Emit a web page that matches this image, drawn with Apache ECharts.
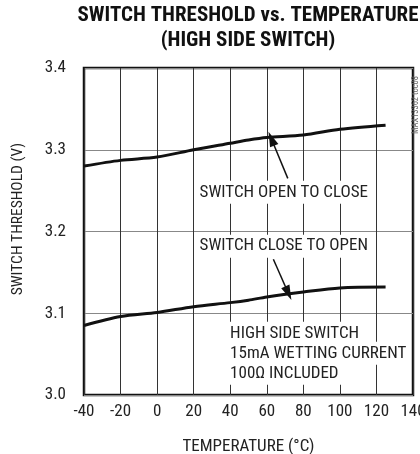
<!DOCTYPE html>
<html>
<head>
<meta charset="utf-8">
<script src="https://cdn.jsdelivr.net/npm/echarts@6/dist/echarts.min.js"></script>
<style>
html, body { margin: 0; padding: 0; background: #fff; }
#chart { width: 420px; height: 454px; }
</style>
</head>
<body>
<div id="chart"></div>
<script>
// temperatures (°C)
var temps = [-40, -20, 0, 20, 40, 50, 60, 80, 100, 125];
// switch open to close threshold (V)
var openToClose = [3.280, 3.287, 3.291, 3.300, 3.308, 3.312, 3.315, 3.318, 3.325, 3.330];
// switch close to open threshold (V)
var closeToOpen = [3.085, 3.096, 3.101, 3.108, 3.113, 3.116, 3.120, 3.126, 3.131, 3.132];

var xTicks = [-40, -20, 0, 20, 40, 60, 80, 100, 120, 140];
var yTicks = [3.0, 3.1, 3.2, 3.3, 3.4];

// annotation arrows: [from, to] in data space
var arrowOpen = [[71.5, 3.265], [62.5, 3.3135]];
var arrowClose = [[63.6, 3.166], [71.8, 3.1245]];

// labels in the plot: text, anchor [x, y] in data space, align
var notes = [
	['SWITCH OPEN TO CLOSE', [69.3, 3.248], 'center'],
	['SWITCH CLOSE TO OPEN', [69.3, 3.182], 'center'],
	['HIGH SIDE SWITCH', [38.3, 3.0755], 'left'],
	['15mA WETTING CURRENT', [38.3, 3.051], 'left'],
	['100Ω INCLUDED', [38.3, 3.0265], 'left']
];

var font = '"Roboto Condensed", sans-serif';

function pairs(xs, ys) {
	var out = [];
	for (var i = 0; i < xs.length; i++) {
		out.push([xs[i], ys[i]]);
	}
	return out;
}

function arrowLine(a) {
	return [{ coord: a[0] }, { coord: a[1] }];
}

var myChart = echarts.init(document.getElementById('chart'));

var option = {
	animation : false,
	title : {
		text : 'SWITCH THRESHOLD vs. TEMPERATURE\n(HIGH SIDE SWITCH)',
		left : 248,
		top : 3,
		padding : 0,
		textAlign : 'center',
		textStyle : {
			fontFamily : font,
			fontWeight : 'bold',
			fontSize : 21,
			lineHeight : 25,
			color : '#111'
		}
	},
	grid : {
		left : 84,
		right : 7,
		top : 68,
		bottom : 59,
		outerBoundsMode : 'none',
		show : true,
		borderColor : '#111',
		borderWidth : 2.5
	},
	xAxis : {
		type : 'value',
		min : xTicks[0],
		max : xTicks[xTicks.length - 1],
		interval : 20,
		name : 'TEMPERATURE (°C)',
		nameLocation : 'middle',
		nameGap : 43,
		nameTextStyle : { fontFamily : font, fontSize : 17, color : '#222' },
		axisLine : { show : false },
		axisTick : { show : false },
		axisLabel : { fontFamily : font, fontSize : 17, color : '#222', margin : 8 },
		splitLine : { show : true, lineStyle : { color : '#333', width : 1 } }
	},
	yAxis : {
		type : 'value',
		min : yTicks[0],
		max : yTicks[yTicks.length - 1],
		interval : 0.1,
		axisLine : { show : false },
		axisTick : { show : false },
		axisLabel : {
			fontFamily : font,
			fontSize : 17,
			color : '#222',
			margin : 18,
			formatter : function(v) { return v.toFixed(1); }
		},
		splitLine : { show : true, lineStyle : { color : '#888', width : 1 } }
	},
	series : [ {
		name : 'open to close',
		type : 'line',
		data : pairs(temps, openToClose),
		symbol : 'none',
		smooth : 0.3,
		lineStyle : { color : '#111', width : 3 },
		z : 5,
		markLine : {
			silent : true,
			symbol : [ 'none', 'triangle' ],
			symbolSize : [ 9, 15 ],
			lineStyle : { color : '#111', width : 1.5, type : 'solid' },
			label : { show : false },
			data : [ arrowLine(arrowOpen), arrowLine(arrowClose) ]
		}
	}, {
		name : 'close to open',
		type : 'line',
		data : pairs(temps, closeToOpen),
		symbol : 'none',
		smooth : 0.3,
		lineStyle : { color : '#111', width : 3 },
		z : 5
	} ]
};
myChart.setOption(option);

// 标注文字，白底盖住网格线
var graphics = [];
for (var i = 0; i < notes.length; i++) {
	var p = myChart.convertToPixel({ gridIndex : 0 }, notes[i][1]);
	graphics.push({
		type : 'text',
		x : p[0],
		y : p[1],
		z : 3,
		style : {
			text : notes[i][0],
			font : '17px ' + font,
			fill : '#222',
			align : notes[i][2],
			verticalAlign : 'middle',
			backgroundColor : '#fff',
			padding : [ 3, 3, 3, 3 ]
		}
	});
}
// y 轴名称
graphics.push({
	type : 'text',
	x : 18,
	y : 219,
	rotation : Math.PI / 2,
	style : {
		text : 'SWITCH THRESHOLD (V)',
		font : '15.5px ' + font,
		fill : '#222',
		align : 'center',
		verticalAlign : 'middle'
	}
});
graphics.push({
	type : 'text',
	x : 416,
	y : 105,
	rotation : Math.PI / 2,
	style : {
		text : 'MAX13362 toc08',
		font : '8.5px ' + font,
		fill : '#666',
		align : 'center',
		verticalAlign : 'middle'
	}
});
myChart.setOption({ graphic : graphics });
</script>
</body>
</html>
